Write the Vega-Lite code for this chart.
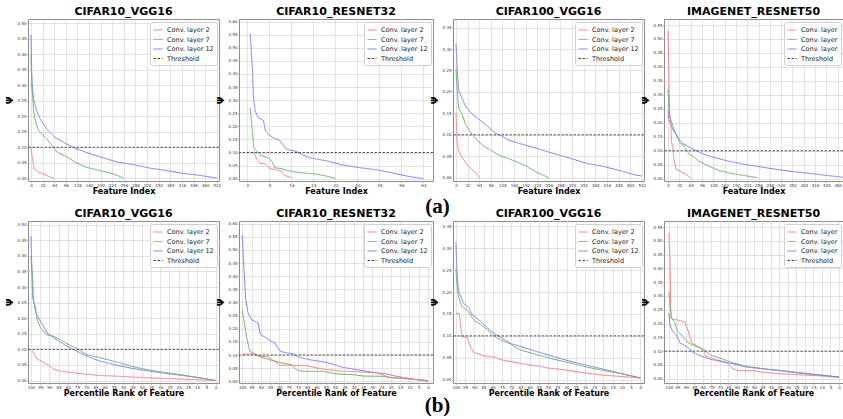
{
"$schema": "https://vega.github.io/schema/vega-lite/v6.json",
"padding": {"left": 5, "top": 5, "right": 0, "bottom": 0},
"background": "white",
"spacing": -10,
"datasets": {
"curves": [
{"p":1,"s":"Conv. layer 12","x":0,"y":0.463},{"p":1,"s":"Conv. layer 12","x":1,"y":0.40},{"p":1,"s":"Conv. layer 12","x":2,"y":0.34},{"p":1,"s":"Conv. layer 12","x":4,"y":0.29},{"p":1,"s":"Conv. layer 12","x":7,"y":0.254},{"p":1,"s":"Conv. layer 12","x":16,"y":0.217},{"p":1,"s":"Conv. layer 12","x":26,"y":0.19},{"p":1,"s":"Conv. layer 12","x":44,"y":0.158},{"p":1,"s":"Conv. layer 12","x":67,"y":0.131},{"p":1,"s":"Conv. layer 12","x":99,"y":0.11},{"p":1,"s":"Conv. layer 12","x":117,"y":0.099},{"p":1,"s":"Conv. layer 12","x":154,"y":0.083},{"p":1,"s":"Conv. layer 12","x":190,"y":0.069},{"p":1,"s":"Conv. layer 12","x":236,"y":0.053},{"p":1,"s":"Conv. layer 12","x":282,"y":0.044},{"p":1,"s":"Conv. layer 12","x":327,"y":0.033},{"p":1,"s":"Conv. layer 12","x":373,"y":0.025},{"p":1,"s":"Conv. layer 12","x":419,"y":0.016},{"p":1,"s":"Conv. layer 12","x":464,"y":0.0096},{"p":1,"s":"Conv. layer 12","x":512,"y":0.001},
{"p":1,"s":"Conv. layer 7","x":0,"y":0.40},{"p":1,"s":"Conv. layer 7","x":1,"y":0.35},{"p":1,"s":"Conv. layer 7","x":2,"y":0.30},{"p":1,"s":"Conv. layer 7","x":5,"y":0.26},{"p":1,"s":"Conv. layer 7","x":7,"y":0.217},{"p":1,"s":"Conv. layer 7","x":12,"y":0.185},{"p":1,"s":"Conv. layer 7","x":21,"y":0.153},{"p":1,"s":"Conv. layer 7","x":30,"y":0.144},{"p":1,"s":"Conv. layer 7","x":44,"y":0.126},{"p":1,"s":"Conv. layer 7","x":62,"y":0.099},{"p":1,"s":"Conv. layer 7","x":71,"y":0.085},{"p":1,"s":"Conv. layer 7","x":99,"y":0.069},{"p":1,"s":"Conv. layer 7","x":126,"y":0.049},{"p":1,"s":"Conv. layer 7","x":154,"y":0.035},{"p":1,"s":"Conv. layer 7","x":190,"y":0.025},{"p":1,"s":"Conv. layer 7","x":227,"y":0.014},{"p":1,"s":"Conv. layer 7","x":256,"y":0.001},
{"p":1,"s":"Conv. layer 2","x":0,"y":0.099},{"p":1,"s":"Conv. layer 2","x":2,"y":0.08},{"p":1,"s":"Conv. layer 2","x":5,"y":0.057},{"p":1,"s":"Conv. layer 2","x":9,"y":0.03},{"p":1,"s":"Conv. layer 2","x":21,"y":0.019},{"p":1,"s":"Conv. layer 2","x":35,"y":0.014},{"p":1,"s":"Conv. layer 2","x":48,"y":0.006},{"p":1,"s":"Conv. layer 2","x":63,"y":0.001},

{"p":2,"s":"Conv. layer 12","x":1,"y":0.555},{"p":2,"s":"Conv. layer 12","x":1.8,"y":0.424},{"p":2,"s":"Conv. layer 12","x":2.2,"y":0.31},{"p":2,"s":"Conv. layer 12","x":2.8,"y":0.259},{"p":2,"s":"Conv. layer 12","x":4,"y":0.233},{"p":2,"s":"Conv. layer 12","x":5.8,"y":0.223},{"p":2,"s":"Conv. layer 12","x":6.6,"y":0.182},{"p":2,"s":"Conv. layer 12","x":7.6,"y":0.169},{"p":2,"s":"Conv. layer 12","x":10,"y":0.153},{"p":2,"s":"Conv. layer 12","x":11.8,"y":0.146},{"p":2,"s":"Conv. layer 12","x":13.7,"y":0.118},{"p":2,"s":"Conv. layer 12","x":15,"y":0.11},{"p":2,"s":"Conv. layer 12","x":17.3,"y":0.106},{"p":2,"s":"Conv. layer 12","x":19.7,"y":0.093},{"p":2,"s":"Conv. layer 12","x":22.7,"y":0.08},{"p":2,"s":"Conv. layer 12","x":28.8,"y":0.068},{"p":2,"s":"Conv. layer 12","x":34.8,"y":0.052},{"p":2,"s":"Conv. layer 12","x":40.9,"y":0.042},{"p":2,"s":"Conv. layer 12","x":46.9,"y":0.034},{"p":2,"s":"Conv. layer 12","x":50.5,"y":0.027},{"p":2,"s":"Conv. layer 12","x":54,"y":0.019},{"p":2,"s":"Conv. layer 12","x":59,"y":0.008},{"p":2,"s":"Conv. layer 12","x":64,"y":0.0},
{"p":2,"s":"Conv. layer 7","x":1,"y":0.271},{"p":2,"s":"Conv. layer 7","x":1.8,"y":0.182},{"p":2,"s":"Conv. layer 7","x":2.4,"y":0.115},{"p":2,"s":"Conv. layer 7","x":3.4,"y":0.106},{"p":2,"s":"Conv. layer 7","x":4.6,"y":0.09},{"p":2,"s":"Conv. layer 7","x":7.6,"y":0.08},{"p":2,"s":"Conv. layer 7","x":8.8,"y":0.068},{"p":2,"s":"Conv. layer 7","x":10,"y":0.042},{"p":2,"s":"Conv. layer 7","x":12.5,"y":0.038},{"p":2,"s":"Conv. layer 7","x":15.5,"y":0.029},{"p":2,"s":"Conv. layer 7","x":19,"y":0.024},{"p":2,"s":"Conv. layer 7","x":25,"y":0.017},{"p":2,"s":"Conv. layer 7","x":28.8,"y":0.01},{"p":2,"s":"Conv. layer 7","x":32,"y":0.001},
{"p":2,"s":"Conv. layer 2","x":1,"y":0.102},{"p":2,"s":"Conv. layer 2","x":2.4,"y":0.099},{"p":2,"s":"Conv. layer 2","x":3.4,"y":0.074},{"p":2,"s":"Conv. layer 2","x":4.6,"y":0.059},{"p":2,"s":"Conv. layer 2","x":6.4,"y":0.057},{"p":2,"s":"Conv. layer 2","x":8.2,"y":0.038},{"p":2,"s":"Conv. layer 2","x":10,"y":0.036},{"p":2,"s":"Conv. layer 2","x":12.5,"y":0.027},{"p":2,"s":"Conv. layer 2","x":13.3,"y":0.013},{"p":2,"s":"Conv. layer 2","x":16,"y":0.004},

{"p":3,"s":"Conv. layer 12","x":0,"y":0.313},{"p":3,"s":"Conv. layer 12","x":3,"y":0.257},{"p":3,"s":"Conv. layer 12","x":7,"y":0.206},{"p":3,"s":"Conv. layer 12","x":12,"y":0.194},{"p":3,"s":"Conv. layer 12","x":26,"y":0.167},{"p":3,"s":"Conv. layer 12","x":44,"y":0.148},{"p":3,"s":"Conv. layer 12","x":63,"y":0.136},{"p":3,"s":"Conv. layer 12","x":86,"y":0.121},{"p":3,"s":"Conv. layer 12","x":106,"y":0.105},{"p":3,"s":"Conv. layer 12","x":127,"y":0.097},{"p":3,"s":"Conv. layer 12","x":141,"y":0.089},{"p":3,"s":"Conv. layer 12","x":178,"y":0.079},{"p":3,"s":"Conv. layer 12","x":224,"y":0.068},{"p":3,"s":"Conv. layer 12","x":270,"y":0.056},{"p":3,"s":"Conv. layer 12","x":316,"y":0.045},{"p":3,"s":"Conv. layer 12","x":362,"y":0.033},{"p":3,"s":"Conv. layer 12","x":408,"y":0.026},{"p":3,"s":"Conv. layer 12","x":454,"y":0.016},{"p":3,"s":"Conv. layer 12","x":496,"y":0.006},{"p":3,"s":"Conv. layer 12","x":512,"y":0.004},
{"p":3,"s":"Conv. layer 7","x":0,"y":0.253},{"p":3,"s":"Conv. layer 7","x":3,"y":0.21},{"p":3,"s":"Conv. layer 7","x":7,"y":0.163},{"p":3,"s":"Conv. layer 7","x":17,"y":0.148},{"p":3,"s":"Conv. layer 7","x":26,"y":0.124},{"p":3,"s":"Conv. layer 7","x":35,"y":0.113},{"p":3,"s":"Conv. layer 7","x":44,"y":0.101},{"p":3,"s":"Conv. layer 7","x":63,"y":0.084},{"p":3,"s":"Conv. layer 7","x":76,"y":0.074},{"p":3,"s":"Conv. layer 7","x":100,"y":0.062},{"p":3,"s":"Conv. layer 7","x":123,"y":0.051},{"p":3,"s":"Conv. layer 7","x":159,"y":0.04},{"p":3,"s":"Conv. layer 7","x":196,"y":0.026},{"p":3,"s":"Conv. layer 7","x":224,"y":0.012},{"p":3,"s":"Conv. layer 7","x":256,"y":0.0},
{"p":3,"s":"Conv. layer 2","x":0,"y":0.152},{"p":3,"s":"Conv. layer 2","x":3,"y":0.086},{"p":3,"s":"Conv. layer 2","x":7,"y":0.062},{"p":3,"s":"Conv. layer 2","x":17,"y":0.047},{"p":3,"s":"Conv. layer 2","x":30,"y":0.031},{"p":3,"s":"Conv. layer 2","x":44,"y":0.019},{"p":3,"s":"Conv. layer 2","x":58,"y":0.008},{"p":3,"s":"Conv. layer 2","x":64,"y":0.0},

{"p":4,"s":"Conv. layer 2","x":0,"y":0.529},{"p":4,"s":"Conv. layer 2","x":1.8,"y":0.397},{"p":4,"s":"Conv. layer 2","x":4.6,"y":0.23},{"p":4,"s":"Conv. layer 2","x":7.4,"y":0.218},{"p":4,"s":"Conv. layer 2","x":9.2,"y":0.135},{"p":4,"s":"Conv. layer 2","x":13.8,"y":0.111},{"p":4,"s":"Conv. layer 2","x":16.6,"y":0.069},{"p":4,"s":"Conv. layer 2","x":23,"y":0.033},{"p":4,"s":"Conv. layer 2","x":37,"y":0.025},{"p":4,"s":"Conv. layer 2","x":50.7,"y":0.0155},{"p":4,"s":"Conv. layer 2","x":64,"y":0.0036},
{"p":4,"s":"Conv. layer 7","x":0,"y":0.32},{"p":4,"s":"Conv. layer 7","x":1.8,"y":0.254},{"p":4,"s":"Conv. layer 7","x":4.6,"y":0.218},{"p":4,"s":"Conv. layer 7","x":9.2,"y":0.206},{"p":4,"s":"Conv. layer 7","x":18.4,"y":0.171},{"p":4,"s":"Conv. layer 7","x":27.7,"y":0.147},{"p":4,"s":"Conv. layer 7","x":32.3,"y":0.129},{"p":4,"s":"Conv. layer 7","x":46,"y":0.117},{"p":4,"s":"Conv. layer 7","x":60,"y":0.087},{"p":4,"s":"Conv. layer 7","x":73.8,"y":0.078},{"p":4,"s":"Conv. layer 7","x":87.6,"y":0.063},{"p":4,"s":"Conv. layer 7","x":115,"y":0.045},{"p":4,"s":"Conv. layer 7","x":143,"y":0.03},{"p":4,"s":"Conv. layer 7","x":170,"y":0.021},{"p":4,"s":"Conv. layer 7","x":207,"y":0.013},{"p":4,"s":"Conv. layer 7","x":253,"y":0.0036},
{"p":4,"s":"Conv. layer 12","x":0,"y":0.242},{"p":4,"s":"Conv. layer 12","x":1.8,"y":0.212},{"p":4,"s":"Conv. layer 12","x":9.2,"y":0.189},{"p":4,"s":"Conv. layer 12","x":18.4,"y":0.165},{"p":4,"s":"Conv. layer 12","x":27.7,"y":0.147},{"p":4,"s":"Conv. layer 12","x":41.5,"y":0.126},{"p":4,"s":"Conv. layer 12","x":60,"y":0.113},{"p":4,"s":"Conv. layer 12","x":78.3,"y":0.101},{"p":4,"s":"Conv. layer 12","x":106,"y":0.085},{"p":4,"s":"Conv. layer 12","x":134,"y":0.075},{"p":4,"s":"Conv. layer 12","x":170,"y":0.063},{"p":4,"s":"Conv. layer 12","x":217,"y":0.051},{"p":4,"s":"Conv. layer 12","x":263,"y":0.042},{"p":4,"s":"Conv. layer 12","x":309,"y":0.033},{"p":4,"s":"Conv. layer 12","x":355,"y":0.025},{"p":4,"s":"Conv. layer 12","x":401,"y":0.019},{"p":4,"s":"Conv. layer 12","x":447,"y":0.012},{"p":4,"s":"Conv. layer 12","x":483,"y":0.007},{"p":4,"s":"Conv. layer 12","x":512,"y":0.002},

{"p":5,"s":"Conv. layer 12","x":100,"y":0.463},{"p":5,"s":"Conv. layer 12","x":99.1,"y":0.27},{"p":5,"s":"Conv. layer 12","x":98.6,"y":0.254},{"p":5,"s":"Conv. layer 12","x":97.3,"y":0.217},{"p":5,"s":"Conv. layer 12","x":95.9,"y":0.2},{"p":5,"s":"Conv. layer 12","x":93.2,"y":0.174},{"p":5,"s":"Conv. layer 12","x":91.4,"y":0.153},{"p":5,"s":"Conv. layer 12","x":87.7,"y":0.137},{"p":5,"s":"Conv. layer 12","x":84.1,"y":0.123},{"p":5,"s":"Conv. layer 12","x":80.5,"y":0.11},{"p":5,"s":"Conv. layer 12","x":75.1,"y":0.094},{"p":5,"s":"Conv. layer 12","x":69.7,"y":0.078},{"p":5,"s":"Conv. layer 12","x":62.5,"y":0.062},{"p":5,"s":"Conv. layer 12","x":53.5,"y":0.049},{"p":5,"s":"Conv. layer 12","x":44.5,"y":0.038},{"p":5,"s":"Conv. layer 12","x":35.5,"y":0.03},{"p":5,"s":"Conv. layer 12","x":26.5,"y":0.022},{"p":5,"s":"Conv. layer 12","x":17.5,"y":0.016},{"p":5,"s":"Conv. layer 12","x":8.5,"y":0.0085},{"p":5,"s":"Conv. layer 12","x":0,"y":0.0},
{"p":5,"s":"Conv. layer 7","x":100,"y":0.40},{"p":5,"s":"Conv. layer 7","x":99.1,"y":0.324},{"p":5,"s":"Conv. layer 7","x":98.6,"y":0.254},{"p":5,"s":"Conv. layer 7","x":97.7,"y":0.238},{"p":5,"s":"Conv. layer 7","x":96.8,"y":0.2},{"p":5,"s":"Conv. layer 7","x":95.3,"y":0.174},{"p":5,"s":"Conv. layer 7","x":93.2,"y":0.158},{"p":5,"s":"Conv. layer 7","x":91.4,"y":0.147},{"p":5,"s":"Conv. layer 7","x":87.7,"y":0.142},{"p":5,"s":"Conv. layer 7","x":84.1,"y":0.131},{"p":5,"s":"Conv. layer 7","x":80.5,"y":0.118},{"p":5,"s":"Conv. layer 7","x":75.1,"y":0.103},{"p":5,"s":"Conv. layer 7","x":69.7,"y":0.083},{"p":5,"s":"Conv. layer 7","x":62.5,"y":0.073},{"p":5,"s":"Conv. layer 7","x":53.5,"y":0.059},{"p":5,"s":"Conv. layer 7","x":44.5,"y":0.044},{"p":5,"s":"Conv. layer 7","x":35.5,"y":0.033},{"p":5,"s":"Conv. layer 7","x":26.5,"y":0.025},{"p":5,"s":"Conv. layer 7","x":17.5,"y":0.017},{"p":5,"s":"Conv. layer 7","x":8.5,"y":0.0085},{"p":5,"s":"Conv. layer 7","x":0,"y":0.0},
{"p":5,"s":"Conv. layer 2","x":100,"y":0.099},{"p":5,"s":"Conv. layer 2","x":98.6,"y":0.089},{"p":5,"s":"Conv. layer 2","x":96.8,"y":0.069},{"p":5,"s":"Conv. layer 2","x":94.1,"y":0.062},{"p":5,"s":"Conv. layer 2","x":90.5,"y":0.048},{"p":5,"s":"Conv. layer 2","x":87.7,"y":0.037},{"p":5,"s":"Conv. layer 2","x":84.1,"y":0.03},{"p":5,"s":"Conv. layer 2","x":80.5,"y":0.027},{"p":5,"s":"Conv. layer 2","x":71.5,"y":0.021},{"p":5,"s":"Conv. layer 2","x":62.5,"y":0.016},{"p":5,"s":"Conv. layer 2","x":53.5,"y":0.014},{"p":5,"s":"Conv. layer 2","x":44.5,"y":0.011},{"p":5,"s":"Conv. layer 2","x":35.5,"y":0.0085},{"p":5,"s":"Conv. layer 2","x":26.5,"y":0.0064},{"p":5,"s":"Conv. layer 2","x":17.5,"y":0.0043},{"p":5,"s":"Conv. layer 2","x":8.5,"y":0.002},{"p":5,"s":"Conv. layer 2","x":0,"y":0.0},

{"p":6,"s":"Conv. layer 12","x":100,"y":0.556},{"p":6,"s":"Conv. layer 12","x":99.1,"y":0.425},{"p":6,"s":"Conv. layer 12","x":98.2,"y":0.311},{"p":6,"s":"Conv. layer 12","x":96.9,"y":0.26},{"p":6,"s":"Conv. layer 12","x":95.1,"y":0.235},{"p":6,"s":"Conv. layer 12","x":91.5,"y":0.222},{"p":6,"s":"Conv. layer 12","x":90.3,"y":0.178},{"p":6,"s":"Conv. layer 12","x":88,"y":0.169},{"p":6,"s":"Conv. layer 12","x":84.4,"y":0.152},{"p":6,"s":"Conv. layer 12","x":82.6,"y":0.146},{"p":6,"s":"Conv. layer 12","x":79.5,"y":0.114},{"p":6,"s":"Conv. layer 12","x":76.3,"y":0.108},{"p":6,"s":"Conv. layer 12","x":72.7,"y":0.105},{"p":6,"s":"Conv. layer 12","x":70,"y":0.093},{"p":6,"s":"Conv. layer 12","x":63.7,"y":0.082},{"p":6,"s":"Conv. layer 12","x":54.7,"y":0.072},{"p":6,"s":"Conv. layer 12","x":45.7,"y":0.053},{"p":6,"s":"Conv. layer 12","x":36.7,"y":0.042},{"p":6,"s":"Conv. layer 12","x":27.7,"y":0.032},{"p":6,"s":"Conv. layer 12","x":22.3,"y":0.028},{"p":6,"s":"Conv. layer 12","x":16.9,"y":0.019},{"p":6,"s":"Conv. layer 12","x":9.7,"y":0.01},{"p":6,"s":"Conv. layer 12","x":0,"y":0.0},
{"p":6,"s":"Conv. layer 7","x":100,"y":0.27},{"p":6,"s":"Conv. layer 7","x":97.8,"y":0.171},{"p":6,"s":"Conv. layer 7","x":96,"y":0.114},{"p":6,"s":"Conv. layer 7","x":93.3,"y":0.105},{"p":6,"s":"Conv. layer 7","x":90.6,"y":0.093},{"p":6,"s":"Conv. layer 7","x":85.3,"y":0.082},{"p":6,"s":"Conv. layer 7","x":79.9,"y":0.072},{"p":6,"s":"Conv. layer 7","x":73.6,"y":0.063},{"p":6,"s":"Conv. layer 7","x":70.5,"y":0.042},{"p":6,"s":"Conv. layer 7","x":67.3,"y":0.038},{"p":6,"s":"Conv. layer 7","x":56.5,"y":0.038},{"p":6,"s":"Conv. layer 7","x":49.3,"y":0.028},{"p":6,"s":"Conv. layer 7","x":40.3,"y":0.025},{"p":6,"s":"Conv. layer 7","x":34.9,"y":0.02},{"p":6,"s":"Conv. layer 7","x":24.1,"y":0.019},{"p":6,"s":"Conv. layer 7","x":19.6,"y":0.013},{"p":6,"s":"Conv. layer 7","x":9.7,"y":0.009},{"p":6,"s":"Conv. layer 7","x":1.6,"y":0.003},{"p":6,"s":"Conv. layer 7","x":0,"y":0.002},
{"p":6,"s":"Conv. layer 2","x":100,"y":0.104},{"p":6,"s":"Conv. layer 2","x":94.2,"y":0.104},{"p":6,"s":"Conv. layer 2","x":90.6,"y":0.095},{"p":6,"s":"Conv. layer 2","x":86.2,"y":0.093},{"p":6,"s":"Conv. layer 2","x":82.6,"y":0.076},{"p":6,"s":"Conv. layer 2","x":79.9,"y":0.061},{"p":6,"s":"Conv. layer 2","x":74.5,"y":0.061},{"p":6,"s":"Conv. layer 2","x":65.5,"y":0.06},{"p":6,"s":"Conv. layer 2","x":60.1,"y":0.051},{"p":6,"s":"Conv. layer 2","x":54.7,"y":0.044},{"p":6,"s":"Conv. layer 2","x":45.7,"y":0.038},{"p":6,"s":"Conv. layer 2","x":36.7,"y":0.036},{"p":6,"s":"Conv. layer 2","x":27.7,"y":0.032},{"p":6,"s":"Conv. layer 2","x":20.5,"y":0.015},{"p":6,"s":"Conv. layer 2","x":9.7,"y":0.009},{"p":6,"s":"Conv. layer 2","x":0,"y":0.003},

{"p":7,"s":"Conv. layer 12","x":100,"y":0.313},{"p":7,"s":"Conv. layer 12","x":99.5,"y":0.25},{"p":7,"s":"Conv. layer 12","x":98.6,"y":0.2},{"p":7,"s":"Conv. layer 12","x":97.3,"y":0.189},{"p":7,"s":"Conv. layer 12","x":95.8,"y":0.174},{"p":7,"s":"Conv. layer 12","x":93.1,"y":0.165},{"p":7,"s":"Conv. layer 12","x":91.3,"y":0.148},{"p":7,"s":"Conv. layer 12","x":88.6,"y":0.14},{"p":7,"s":"Conv. layer 12","x":85,"y":0.127},{"p":7,"s":"Conv. layer 12","x":81.4,"y":0.112},{"p":7,"s":"Conv. layer 12","x":78.7,"y":0.104},{"p":7,"s":"Conv. layer 12","x":75.1,"y":0.095},{"p":7,"s":"Conv. layer 12","x":70.6,"y":0.083},{"p":7,"s":"Conv. layer 12","x":65.2,"y":0.076},{"p":7,"s":"Conv. layer 12","x":56.1,"y":0.064},{"p":7,"s":"Conv. layer 12","x":47.1,"y":0.053},{"p":7,"s":"Conv. layer 12","x":38.1,"y":0.042},{"p":7,"s":"Conv. layer 12","x":29.1,"y":0.033},{"p":7,"s":"Conv. layer 12","x":20,"y":0.024},{"p":7,"s":"Conv. layer 12","x":11,"y":0.015},{"p":7,"s":"Conv. layer 12","x":3.8,"y":0.0076},{"p":7,"s":"Conv. layer 12","x":0,"y":0.004},
{"p":7,"s":"Conv. layer 7","x":100,"y":0.254},{"p":7,"s":"Conv. layer 7","x":99.5,"y":0.22},{"p":7,"s":"Conv. layer 7","x":98.6,"y":0.189},{"p":7,"s":"Conv. layer 7","x":96.8,"y":0.167},{"p":7,"s":"Conv. layer 7","x":94,"y":0.159},{"p":7,"s":"Conv. layer 7","x":92.2,"y":0.148},{"p":7,"s":"Conv. layer 7","x":89.5,"y":0.133},{"p":7,"s":"Conv. layer 7","x":86.8,"y":0.127},{"p":7,"s":"Conv. layer 7","x":83.2,"y":0.115},{"p":7,"s":"Conv. layer 7","x":79.6,"y":0.1},{"p":7,"s":"Conv. layer 7","x":75.1,"y":0.089},{"p":7,"s":"Conv. layer 7","x":70.6,"y":0.082},{"p":7,"s":"Conv. layer 7","x":65.2,"y":0.068},{"p":7,"s":"Conv. layer 7","x":56.1,"y":0.057},{"p":7,"s":"Conv. layer 7","x":47.1,"y":0.047},{"p":7,"s":"Conv. layer 7","x":38.1,"y":0.038},{"p":7,"s":"Conv. layer 7","x":29.1,"y":0.029},{"p":7,"s":"Conv. layer 7","x":20,"y":0.021},{"p":7,"s":"Conv. layer 7","x":11,"y":0.014},{"p":7,"s":"Conv. layer 7","x":3.8,"y":0.0076},{"p":7,"s":"Conv. layer 7","x":0,"y":0.004},
{"p":7,"s":"Conv. layer 2","x":100,"y":0.152},{"p":7,"s":"Conv. layer 2","x":98.2,"y":0.15},{"p":7,"s":"Conv. layer 2","x":96.8,"y":0.098},{"p":7,"s":"Conv. layer 2","x":94,"y":0.097},{"p":7,"s":"Conv. layer 2","x":92.2,"y":0.076},{"p":7,"s":"Conv. layer 2","x":90.4,"y":0.062},{"p":7,"s":"Conv. layer 2","x":87.7,"y":0.059},{"p":7,"s":"Conv. layer 2","x":84.1,"y":0.053},{"p":7,"s":"Conv. layer 2","x":79.6,"y":0.052},{"p":7,"s":"Conv. layer 2","x":74.2,"y":0.044},{"p":7,"s":"Conv. layer 2","x":67,"y":0.039},{"p":7,"s":"Conv. layer 2","x":61.6,"y":0.034},{"p":7,"s":"Conv. layer 2","x":56.1,"y":0.032},{"p":7,"s":"Conv. layer 2","x":50.7,"y":0.027},{"p":7,"s":"Conv. layer 2","x":41.7,"y":0.023},{"p":7,"s":"Conv. layer 2","x":32.7,"y":0.017},{"p":7,"s":"Conv. layer 2","x":21.8,"y":0.011},{"p":7,"s":"Conv. layer 2","x":11,"y":0.0076},{"p":7,"s":"Conv. layer 2","x":3.8,"y":0.0053},{"p":7,"s":"Conv. layer 2","x":0,"y":0.004},

{"p":8,"s":"Conv. layer 2","x":100,"y":0.528},{"p":8,"s":"Conv. layer 2","x":99.4,"y":0.431},{"p":8,"s":"Conv. layer 2","x":98.8,"y":0.22},{"p":8,"s":"Conv. layer 2","x":97.5,"y":0.216},{"p":8,"s":"Conv. layer 2","x":93.5,"y":0.211},{"p":8,"s":"Conv. layer 2","x":90.6,"y":0.205},{"p":8,"s":"Conv. layer 2","x":88.6,"y":0.171},{"p":8,"s":"Conv. layer 2","x":86.7,"y":0.129},{"p":8,"s":"Conv. layer 2","x":83.7,"y":0.12},{"p":8,"s":"Conv. layer 2","x":79.8,"y":0.105},{"p":8,"s":"Conv. layer 2","x":78.2,"y":0.081},{"p":8,"s":"Conv. layer 2","x":72,"y":0.069},{"p":8,"s":"Conv. layer 2","x":66.1,"y":0.059},{"p":8,"s":"Conv. layer 2","x":63.1,"y":0.039},{"p":8,"s":"Conv. layer 2","x":59.2,"y":0.029},{"p":8,"s":"Conv. layer 2","x":50.4,"y":0.029},{"p":8,"s":"Conv. layer 2","x":44.5,"y":0.023},{"p":8,"s":"Conv. layer 2","x":34.7,"y":0.018},{"p":8,"s":"Conv. layer 2","x":24.9,"y":0.0145},{"p":8,"s":"Conv. layer 2","x":13.1,"y":0.011},{"p":8,"s":"Conv. layer 2","x":0,"y":0.005},
{"p":8,"s":"Conv. layer 7","x":100,"y":0.316},{"p":8,"s":"Conv. layer 7","x":99.4,"y":0.262},{"p":8,"s":"Conv. layer 7","x":98.4,"y":0.22},{"p":8,"s":"Conv. layer 7","x":96.5,"y":0.204},{"p":8,"s":"Conv. layer 7","x":95.1,"y":0.171},{"p":8,"s":"Conv. layer 7","x":92.5,"y":0.159},{"p":8,"s":"Conv. layer 7","x":89.6,"y":0.135},{"p":8,"s":"Conv. layer 7","x":86.7,"y":0.123},{"p":8,"s":"Conv. layer 7","x":83.7,"y":0.117},{"p":8,"s":"Conv. layer 7","x":79.4,"y":0.105},{"p":8,"s":"Conv. layer 7","x":75.9,"y":0.087},{"p":8,"s":"Conv. layer 7","x":70,"y":0.075},{"p":8,"s":"Conv. layer 7","x":62.2,"y":0.057},{"p":8,"s":"Conv. layer 7","x":54.3,"y":0.045},{"p":8,"s":"Conv. layer 7","x":44.5,"y":0.036},{"p":8,"s":"Conv. layer 7","x":34.7,"y":0.029},{"p":8,"s":"Conv. layer 7","x":24.9,"y":0.021},{"p":8,"s":"Conv. layer 7","x":13.1,"y":0.0145},{"p":8,"s":"Conv. layer 7","x":0,"y":0.006},
{"p":8,"s":"Conv. layer 12","x":100,"y":0.238},{"p":8,"s":"Conv. layer 12","x":99.4,"y":0.196},{"p":8,"s":"Conv. layer 12","x":97.8,"y":0.171},{"p":8,"s":"Conv. layer 12","x":95.5,"y":0.159},{"p":8,"s":"Conv. layer 12","x":93.5,"y":0.129},{"p":8,"s":"Conv. layer 12","x":89.6,"y":0.117},{"p":8,"s":"Conv. layer 12","x":85.7,"y":0.095},{"p":8,"s":"Conv. layer 12","x":80.8,"y":0.081},{"p":8,"s":"Conv. layer 12","x":75.9,"y":0.071},{"p":8,"s":"Conv. layer 12","x":70,"y":0.063},{"p":8,"s":"Conv. layer 12","x":62.2,"y":0.054},{"p":8,"s":"Conv. layer 12","x":54.3,"y":0.042},{"p":8,"s":"Conv. layer 12","x":44.5,"y":0.036},{"p":8,"s":"Conv. layer 12","x":34.7,"y":0.03},{"p":8,"s":"Conv. layer 12","x":24.9,"y":0.023},{"p":8,"s":"Conv. layer 12","x":13.1,"y":0.0145},{"p":8,"s":"Conv. layer 12","x":0,"y":0.006}
]
},
"data": {"name": "curves"},
"resolve": {"scale": {"x": "independent", "y": "independent", "color": "independent", "strokeDash": "independent"}, "legend": {"color": "independent", "strokeDash": "independent"}, "axis": {"x": "independent", "y": "independent"}},
"vconcat": [
{
"hconcat": [
{"width": 191, "height": 162, "title": "CIFAR10_VGG16",
 "layer": [
  {"transform": [{"filter": "datum.p == 1"}], "mark": {"type": "line", "strokeWidth": 1, "clip": true},
   "encoding": {
    "x": {"field": "x", "type": "quantitative", "scale": {"domain": [-8.3, 518.3], "nice": false, "zero": false}, "axis": {"values": [0,32,64,96,128,160,192,224,256,288,320,352,384,416,448,480,512], "tickCount": 100, "format": "d", "title": "Feature Index", "labelOverlap": false, "labelFlush": false}},
    "y": {"field": "y", "type": "quantitative", "scale": {"domain": [-0.0087, 0.514], "nice": false, "zero": false}, "axis": {"values": [0,0.05,0.1,0.15,0.2,0.25,0.3,0.35,0.4,0.45,0.5], "tickCount": 100, "format": ".2f", "title": "Ψ", "labelOverlap": false}},
    "color": {"field": "s", "type": "nominal", "scale": {"domain": ["Conv. layer 2","Conv. layer 7","Conv. layer 12","Threshold"], "range": ["#ff7a7a","#66b366","#7a7aff","#444444"]}, "legend": {"title": null}},
    "strokeDash": {"field": "s", "type": "nominal", "scale": {"domain": ["Conv. layer 2","Conv. layer 7","Conv. layer 12","Threshold"], "range": [[1,0],[1,0],[1,0],[2.5,1.5]]}, "legend": {"title": null}}
   }},
  {"data": {"values": [{}]}, "mark": {"type": "rule", "strokeWidth": 0.9, "color": "#444444", "strokeDash": [2.5,1.5]},
   "encoding": {"y": {"datum": 0.1}}}
 ]},
{"width": 194, "height": 162, "title": "CIFAR10_RESNET32",
 "layer": [
  {"transform": [{"filter": "datum.p == 2"}], "mark": {"type": "line", "strokeWidth": 1, "clip": true},
   "encoding": {
    "x": {"field": "x", "type": "quantitative", "scale": {"domain": [-3.06, 67.5], "nice": false, "zero": false}, "axis": {"values": [0,8,16,24,32,40,48,56,64], "tickCount": 100, "format": "d", "title": "Feature Index", "labelOverlap": false, "labelFlush": false}},
    "y": {"field": "y", "type": "quantitative", "scale": {"domain": [-0.0088, 0.61], "nice": false, "zero": false}, "axis": {"values": [0,0.05,0.1,0.15,0.2,0.25,0.3,0.35,0.4,0.45,0.5,0.55,0.6], "tickCount": 100, "format": ".2f", "title": "Ψ", "labelOverlap": false}},
    "color": {"field": "s", "type": "nominal", "scale": {"domain": ["Conv. layer 2","Conv. layer 7","Conv. layer 12","Threshold"], "range": ["#ff7a7a","#66b366","#7a7aff","#444444"]}, "legend": {"title": null}},
    "strokeDash": {"field": "s", "type": "nominal", "scale": {"domain": ["Conv. layer 2","Conv. layer 7","Conv. layer 12","Threshold"], "range": [[1,0],[1,0],[1,0],[2.5,1.5]]}, "legend": {"title": null}}
   }},
  {"data": {"values": [{}]}, "mark": {"type": "rule", "strokeWidth": 0.9, "color": "#444444", "strokeDash": [2.5,1.5]},
   "encoding": {"y": {"datum": 0.1}}}
 ]},
{"width": 191, "height": 162, "title": "CIFAR100_VGG16",
 "layer": [
  {"transform": [{"filter": "datum.p == 3"}], "mark": {"type": "line", "strokeWidth": 1, "clip": true},
   "encoding": {
    "x": {"field": "x", "type": "quantitative", "scale": {"domain": [-8.3, 518.3], "nice": false, "zero": false}, "axis": {"values": [0,32,64,96,128,160,192,224,256,288,320,352,384,416,448,480,512], "tickCount": 100, "format": "d", "title": "Feature Index", "labelOverlap": false, "labelFlush": false}},
    "y": {"field": "y", "type": "quantitative", "scale": {"domain": [-0.0077, 0.37], "nice": false, "zero": false}, "axis": {"values": [0,0.05,0.1,0.15,0.2,0.25,0.3,0.35], "tickCount": 100, "format": ".2f", "title": "Ψ", "labelOverlap": false}},
    "color": {"field": "s", "type": "nominal", "scale": {"domain": ["Conv. layer 2","Conv. layer 7","Conv. layer 12","Threshold"], "range": ["#ff7a7a","#66b366","#7a7aff","#444444"]}, "legend": {"title": null}},
    "strokeDash": {"field": "s", "type": "nominal", "scale": {"domain": ["Conv. layer 2","Conv. layer 7","Conv. layer 12","Threshold"], "range": [[1,0],[1,0],[1,0],[2.5,1.5]]}, "legend": {"title": null}}
   }},
  {"data": {"values": [{}]}, "mark": {"type": "rule", "strokeWidth": 0.9, "color": "#444444", "strokeDash": [2.5,1.5]},
   "encoding": {"y": {"datum": 0.1}}}
 ]},
{"width": 179, "height": 162, "title": "IMAGENET_RESNET50",
 "layer": [
  {"transform": [{"filter": "datum.p == 4"}], "mark": {"type": "line", "strokeWidth": 1, "clip": true},
   "encoding": {
    "x": {"field": "x", "type": "quantitative", "scale": {"domain": [-11.5, 495], "nice": false, "zero": false}, "axis": {"values": [0,32,64,96,128,160,192,224,256,288,320,352,384,416,448,480], "tickCount": 100, "format": "d", "title": "Feature Index", "labelFlush": false, "labelOverlap": false}},
    "y": {"field": "y", "type": "quantitative", "scale": {"domain": [-0.0082, 0.5715], "nice": false, "zero": false}, "axis": {"values": [0,0.05,0.1,0.15,0.2,0.25,0.3,0.35,0.4,0.45,0.5,0.55], "tickCount": 100, "format": ".2f", "title": "Ψ", "labelOverlap": false}},
    "color": {"field": "s", "type": "nominal", "scale": {"domain": ["Conv. layer 2","Conv. layer 7","Conv. layer 12","Threshold"], "range": ["#ff7a7a","#66b366","#7a7aff","#444444"]}, "legend": {"title": null, "labelExpr": "datum.label == 'Threshold' ? 'Threshold' : 'Conv. layer'"}},
    "strokeDash": {"field": "s", "type": "nominal", "scale": {"domain": ["Conv. layer 2","Conv. layer 7","Conv. layer 12","Threshold"], "range": [[1,0],[1,0],[1,0],[2.5,1.5]]}, "legend": {"title": null, "labelExpr": "datum.label == 'Threshold' ? 'Threshold' : 'Conv. layer'"}}
   }},
  {"data": {"values": [{}]}, "mark": {"type": "rule", "strokeWidth": 0.9, "color": "#444444", "strokeDash": [2.5,1.5]},
   "encoding": {"y": {"datum": 0.1}}}
 ]}
],
"spacing": 20, "bounds": "flush",
"resolve": {"scale": {"x": "independent", "y": "independent", "color": "independent", "strokeDash": "independent"}, "legend": {"color": "independent", "strokeDash": "independent"}, "axis": {"x": "independent", "y": "independent"}},
"title": {"text": "(a)", "orient": "bottom", "anchor": "middle", "frame": "bounds", "dx": 13, "font": "Liberation Serif", "fontSize": 21, "fontWeight": "bold", "offset": 0, "color": "black"}
},
{
"hconcat": [
{"width": 191, "height": 162, "title": "CIFAR10_VGG16",
 "layer": [
  {"transform": [{"filter": "datum.p == 5"}], "mark": {"type": "line", "strokeWidth": 1, "clip": true},
   "encoding": {
    "x": {"field": "x", "type": "quantitative", "scale": {"domain": [101.6, -1.8], "nice": false, "zero": false}, "axis": {"values": [100,95,90,85,80,75,70,65,60,55,50,45,40,35,30,25,20,15,10,5,0], "tickCount": 100, "format": "d", "title": "Percentile Rank of Feature", "labelOverlap": false, "labelFlush": false}},
    "y": {"field": "y", "type": "quantitative", "scale": {"domain": [-0.008, 0.512], "nice": false, "zero": false}, "axis": {"values": [0,0.05,0.1,0.15,0.2,0.25,0.3,0.35,0.4,0.45,0.5], "tickCount": 100, "format": ".2f", "title": "Ψ", "labelOverlap": false}},
    "color": {"field": "s", "type": "nominal", "scale": {"domain": ["Conv. layer 2","Conv. layer 7","Conv. layer 12","Threshold"], "range": ["#ff7a7a","#66b366","#7a7aff","#444444"]}, "legend": {"title": null}},
    "strokeDash": {"field": "s", "type": "nominal", "scale": {"domain": ["Conv. layer 2","Conv. layer 7","Conv. layer 12","Threshold"], "range": [[1,0],[1,0],[1,0],[2.5,1.5]]}, "legend": {"title": null}}
   }},
  {"data": {"values": [{}]}, "mark": {"type": "rule", "strokeWidth": 0.9, "color": "#444444", "strokeDash": [2.5,1.5]},
   "encoding": {"y": {"datum": 0.1}}}
 ]},
{"width": 194, "height": 162, "title": "CIFAR10_RESNET32",
 "layer": [
  {"transform": [{"filter": "datum.p == 6"}], "mark": {"type": "line", "strokeWidth": 1, "clip": true},
   "encoding": {
    "x": {"field": "x", "type": "quantitative", "scale": {"domain": [101.8, -2.7], "nice": false, "zero": false}, "axis": {"values": [100,95,90,85,80,75,70,65,60,55,50,45,40,35,30,25,20,15,10,5,0], "tickCount": 100, "format": "d", "title": "Percentile Rank of Feature", "labelOverlap": false, "labelFlush": false}},
    "y": {"field": "y", "type": "quantitative", "scale": {"domain": [-0.0065, 0.61], "nice": false, "zero": false}, "axis": {"values": [0,0.05,0.1,0.15,0.2,0.25,0.3,0.35,0.4,0.45,0.5,0.55,0.6], "tickCount": 100, "format": ".2f", "title": "Ψ", "labelOverlap": false}},
    "color": {"field": "s", "type": "nominal", "scale": {"domain": ["Conv. layer 2","Conv. layer 7","Conv. layer 12","Threshold"], "range": ["#ff7a7a","#66b366","#7a7aff","#444444"]}, "legend": {"title": null}},
    "strokeDash": {"field": "s", "type": "nominal", "scale": {"domain": ["Conv. layer 2","Conv. layer 7","Conv. layer 12","Threshold"], "range": [[1,0],[1,0],[1,0],[2.5,1.5]]}, "legend": {"title": null}}
   }},
  {"data": {"values": [{}]}, "mark": {"type": "rule", "strokeWidth": 0.9, "color": "#444444", "strokeDash": [2.5,1.5]},
   "encoding": {"y": {"datum": 0.1}}}
 ]},
{"width": 191, "height": 162, "title": "CIFAR100_VGG16",
 "layer": [
  {"transform": [{"filter": "datum.p == 7"}], "mark": {"type": "line", "strokeWidth": 1, "clip": true},
   "encoding": {
    "x": {"field": "x", "type": "quantitative", "scale": {"domain": [101.6, -2.0], "nice": false, "zero": false}, "axis": {"values": [100,95,90,85,80,75,70,65,60,55,50,45,40,35,30,25,20,15,10,5,0], "tickCount": 100, "format": "d", "title": "Percentile Rank of Feature", "labelOverlap": false, "labelFlush": false}},
    "y": {"field": "y", "type": "quantitative", "scale": {"domain": [-0.0075, 0.362], "nice": false, "zero": false}, "axis": {"values": [0,0.05,0.1,0.15,0.2,0.25,0.3,0.35], "tickCount": 100, "format": ".2f", "title": "Ψ", "labelOverlap": false}},
    "color": {"field": "s", "type": "nominal", "scale": {"domain": ["Conv. layer 2","Conv. layer 7","Conv. layer 12","Threshold"], "range": ["#ff7a7a","#66b366","#7a7aff","#444444"]}, "legend": {"title": null}},
    "strokeDash": {"field": "s", "type": "nominal", "scale": {"domain": ["Conv. layer 2","Conv. layer 7","Conv. layer 12","Threshold"], "range": [[1,0],[1,0],[1,0],[2.5,1.5]]}, "legend": {"title": null}}
   }},
  {"data": {"values": [{}]}, "mark": {"type": "rule", "strokeWidth": 0.9, "color": "#444444", "strokeDash": [2.5,1.5]},
   "encoding": {"y": {"datum": 0.1}}}
 ]},
{"width": 179, "height": 162, "title": "IMAGENET_RESNET50",
 "layer": [
  {"transform": [{"filter": "datum.p == 8"}], "mark": {"type": "line", "strokeWidth": 1, "clip": true},
   "encoding": {
    "x": {"field": "x", "type": "quantitative", "scale": {"domain": [102.9, -2.4], "nice": false, "zero": false}, "axis": {"values": [100,95,90,85,80,75,70,65,60,55,50,45,40,35,30,25,20,15,10,5,0], "tickCount": 100, "format": "d", "title": "Percentile Rank of Feature", "labelOverlap": false, "labelFlush": false}},
    "y": {"field": "y", "type": "quantitative", "scale": {"domain": [-0.0156, 0.572], "nice": false, "zero": false}, "axis": {"values": [0,0.05,0.1,0.15,0.2,0.25,0.3,0.35,0.4,0.45,0.5,0.55], "tickCount": 100, "format": ".2f", "title": "Ψ", "labelOverlap": false}},
    "color": {"field": "s", "type": "nominal", "scale": {"domain": ["Conv. layer 2","Conv. layer 7","Conv. layer 12","Threshold"], "range": ["#ff7a7a","#66b366","#7a7aff","#444444"]}, "legend": {"title": null, "labelExpr": "datum.label == 'Threshold' ? 'Threshold' : 'Conv. layer'"}},
    "strokeDash": {"field": "s", "type": "nominal", "scale": {"domain": ["Conv. layer 2","Conv. layer 7","Conv. layer 12","Threshold"], "range": [[1,0],[1,0],[1,0],[2.5,1.5]]}, "legend": {"title": null, "labelExpr": "datum.label == 'Threshold' ? 'Threshold' : 'Conv. layer'"}}
   }},
  {"data": {"values": [{}]}, "mark": {"type": "rule", "strokeWidth": 0.9, "color": "#444444", "strokeDash": [2.5,1.5]},
   "encoding": {"y": {"datum": 0.1}}}
 ]}
],
"spacing": 20, "bounds": "flush",
"resolve": {"scale": {"x": "independent", "y": "independent", "color": "independent", "strokeDash": "independent"}, "legend": {"color": "independent", "strokeDash": "independent"}, "axis": {"x": "independent", "y": "independent"}},
"title": {"text": "(b)", "orient": "bottom", "anchor": "middle", "frame": "bounds", "dx": 13, "font": "Liberation Serif", "fontSize": 21, "fontWeight": "bold", "offset": -3, "color": "black"}
}
],
"config": {
 "font": "DejaVu Sans",
 "view": {"stroke": "#8c8c8c", "strokeWidth": 1},
 "axis": {"domain": false, "grid": true, "gridColor": "#dcdcdc", "gridWidth": 0.8, "tickColor": "#8c8c8c", "tickSize": 1, "labelFontSize": 4, "labelColor": "#333333", "labelPadding": 1, "labelFlush": false, "labelOverlap": false, "titleFontSize": 8, "titleFontWeight": "bold", "titleColor": "black", "titleFont": "DejaVu Sans", "labelFont": "DejaVu Sans"},
 "axisX": {"titlePadding": 0},
 "axisY": {"titlePadding": 2.5, "titleFontSize": 9},
 "title": {"fontSize": 11, "fontWeight": "bold", "offset": 2, "frame": "group", "color": "black", "font": "DejaVu Sans"},
 "legend": {"orient": "top-right", "offset": 2.5, "padding": 3, "rowPadding": 0.5, "labelFontSize": 6.5, "labelFont": "DejaVu Sans", "labelColor": "#222222", "labelOffset": 4, "symbolSize": 81, "symbolType": "stroke", "symbolStrokeWidth": 1, "strokeColor": "#d0d0d0", "fillColor": "rgba(255,255,255,0.85)", "cornerRadius": 2}
}
}
